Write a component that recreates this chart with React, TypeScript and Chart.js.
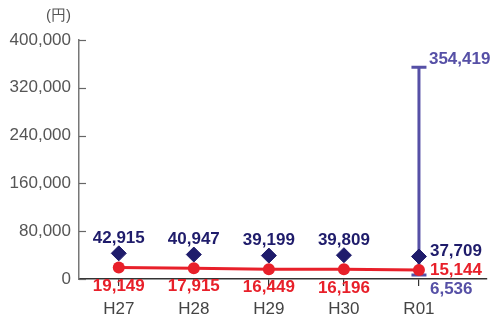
import React, { useEffect, useRef } from 'react';
import { Chart, registerables } from 'chart.js';

Chart.register(...registerables);

const categories = ['H27', 'H28', 'H29', 'H30', 'R01'];
const diamondValues = [42915, 40947, 39199, 39809, 37709];
const redValues = [19149, 17915, 16449, 16196, 15144];
const rangeLow = 6536;
const rangeHigh = 354419;
const yTicks = [0, 80000, 160000, 240000, 320000, 400000];
const unitLabel = '(円)';

const NAVY = '#1f1c6b';
const RED = '#e8202a';
const PURPLE = '#5650a6';
const FONT = '"Liberation Sans", Arial, Helvetica, sans-serif';

const fmt = (v: number) => v.toLocaleString('en-US');

const labelPlugin = {
  id: 'customLabels',
  afterDatasetsDraw(chart: any) {
    const ctx = chart.ctx;
    const xs = chart.scales.x;
    const ys = chart.scales.y;
    ctx.save();
    // inward y tick marks
    ctx.strokeStyle = '#666';
    ctx.lineWidth = 1.2;
    yTicks.forEach((v) => {
      const py = Math.round(ys.getPixelForValue(v)) + 0.5;
      ctx.beginPath();
      ctx.moveTo(xs.left, py);
      ctx.lineTo(xs.left + 7, py);
      ctx.stroke();
    });
    // unit label
    ctx.font = '15px ' + FONT;
    ctx.fillStyle = '#555';
    ctx.textAlign = 'right';
    ctx.textBaseline = 'middle';
    ctx.fillText(unitLabel, ys.right - 8, chart.chartArea.top - 24);

    const last = categories.length - 1;
    const eMeta = chart.getDatasetMeta(0);
    const dMeta = chart.getDatasetMeta(1);
    const rMeta = chart.getDatasetMeta(2);
    ctx.font = 'bold 17px ' + FONT;
    dMeta.data.forEach((el: any, i: number) => {
      ctx.fillStyle = NAVY;
      if (i === last) {
        ctx.textAlign = 'left';
        ctx.fillText(fmt(diamondValues[i]), el.x + 11, el.y - 5);
      } else {
        ctx.textAlign = 'center';
        ctx.fillText(fmt(diamondValues[i]), el.x, el.y - 15);
      }
    });
    rMeta.data.forEach((el: any, i: number) => {
      ctx.fillStyle = RED;
      if (i === last) {
        ctx.textAlign = 'left';
        ctx.fillText(fmt(redValues[i]), el.x + 11, el.y);
      } else {
        ctx.textAlign = 'center';
        ctx.fillText(fmt(redValues[i]), el.x, el.y + 18.5);
      }
    });
    ctx.fillStyle = PURPLE;
    ctx.textAlign = 'left';
    const lo = eMeta.data[0];
    const hi = eMeta.data[1];
    ctx.fillText(fmt(rangeLow), lo.x + 11, lo.y + 14.5);
    ctx.fillText(fmt(rangeHigh), hi.x + 10, hi.y - 8);
    ctx.restore();
  },
};

export default function App() {
  const ref = useRef<HTMLCanvasElement | null>(null);
  useEffect(() => {
    if (!ref.current) return;
    const last = categories.length - 1;
    const chart = new Chart(ref.current, {
      type: 'line',
      data: {
        datasets: [
          {
            label: 'range',
            data: [
              { x: last, y: rangeLow },
              { x: last, y: rangeHigh },
            ],
            borderColor: PURPLE,
            backgroundColor: PURPLE,
            borderWidth: 3,
            pointStyle: 'line',
            pointRadius: 7.5,
            pointBorderWidth: 3,
            pointBorderColor: PURPLE,
            order: 3,
          },
          {
            label: 'diamond',
            data: diamondValues.map((v, i) => ({ x: i, y: v })),
            showLine: false,
            pointStyle: 'rectRot',
            pointRadius: 7.5,
            pointBackgroundColor: NAVY,
            pointBorderColor: NAVY,
            pointBorderWidth: 1,
            order: 2,
          },
          {
            label: 'red',
            data: redValues.map((v, i) => ({ x: i, y: v })),
            borderColor: RED,
            backgroundColor: RED,
            borderWidth: 3,
            pointStyle: 'circle',
            pointRadius: 6,
            pointBackgroundColor: RED,
            pointBorderColor: RED,
            pointBorderWidth: 0,
            order: 1,
          },
        ],
      },
      options: {
        animation: false,
        responsive: true,
        maintainAspectRatio: false,
        layout: { padding: { top: 40, right: 9, left: 0, bottom: 0 } },
        plugins: {
          legend: { display: false },
          tooltip: { enabled: false },
        },
        scales: {
          x: {
            type: 'linear',
            min: -0.53,
            max: 4.9,
            afterBuildTicks: (s: any) => {
              s.ticks = categories.map((_, i) => ({ value: i }));
            },
            afterFit: (s: any) => {
              s.height = 38;
            },
            ticks: {
              callback: (v: any) => categories[v] ?? '',
              color: '#444',
              font: { family: FONT, size: 17 },
              padding: 13,
              maxRotation: 0,
              autoSkip: false,
            },
            grid: {
              display: true,
              drawOnChartArea: false,
              drawTicks: true,
              tickLength: 7,
              color: '#333',
              lineWidth: 1.2,
            },
            border: { display: true, color: '#333', width: 1.5 },
          },
          y: {
            min: 0,
            max: 400000,
            afterBuildTicks: (s: any) => {
              s.ticks = yTicks.map((v) => ({ value: v }));
            },
            afterFit: (s: any) => {
              s.width = 79;
            },
            ticks: {
              callback: (v: any) => fmt(Number(v)),
              color: '#555',
              font: { family: FONT, size: 17 },
              padding: 8,
            },
            grid: { display: false, drawTicks: false },
            border: { display: true, color: '#777', width: 1.5 },
          },
        },
      },
      plugins: [labelPlugin],
    });
    return () => chart.destroy();
  }, []);
  return (
    <div style={{ position: 'absolute', left: 0, top: 0, width: 497, height: 317 }}>
      <canvas ref={ref} />
    </div>
  );
}
